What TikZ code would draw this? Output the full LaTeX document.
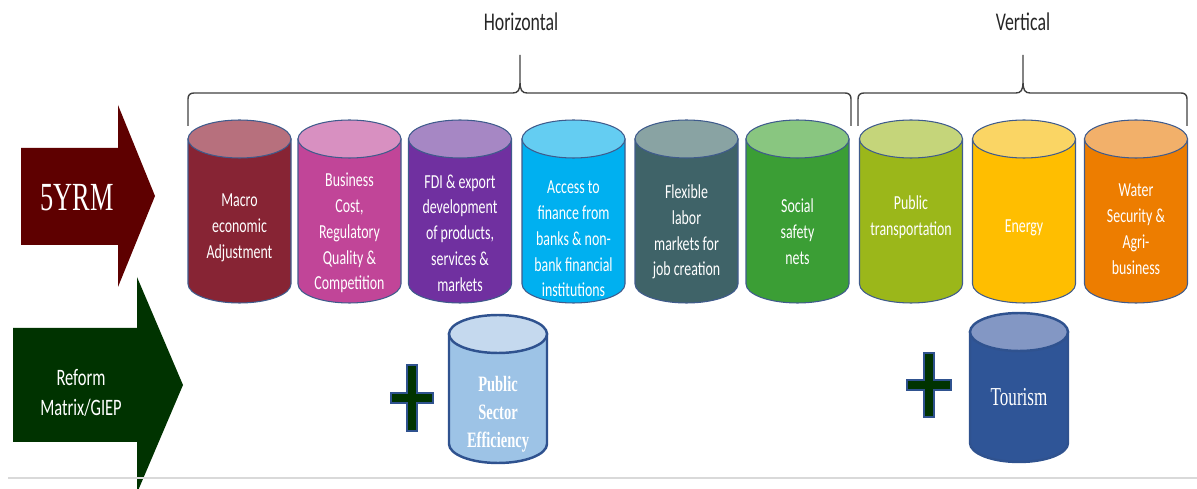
\documentclass[tikz,border=0pt]{standalone}
\usepackage{fontspec}
\setmainfont{Carlito}
\newfontfamily\cylfont[FakeStretch=0.7]{Carlito}
\newfontfamily\capfont[FakeStretch=0.66]{Liberation Serif}
\usepackage{tikz}
\usepackage{xcolor}

\definecolor{macroBody}{RGB}{135,36,52}   \definecolor{macroTop}{RGB}{183,112,125}
\definecolor{bizBody}{RGB}{193,69,152}    \definecolor{bizTop}{RGB}{216,144,193}
\definecolor{fdiBody}{RGB}{112,48,160}    \definecolor{fdiTop}{RGB}{166,135,196}
\definecolor{accBody}{RGB}{0,176,240}     \definecolor{accTop}{RGB}{100,205,242}
\definecolor{labBody}{RGB}{63,99,104}     \definecolor{labTop}{RGB}{137,163,163}
\definecolor{socBody}{RGB}{59,158,53}     \definecolor{socTop}{RGB}{137,198,128}
\definecolor{trnBody}{RGB}{155,183,26}    \definecolor{trnTop}{RGB}{197,213,122}
\definecolor{engBody}{RGB}{255,190,0}     \definecolor{engTop}{RGB}{250,213,100}
\definecolor{watBody}{RGB}{237,125,0}     \definecolor{watTop}{RGB}{242,176,106}
\definecolor{pseBody}{RGB}{157,195,230}   \definecolor{pseTop}{RGB}{197,217,238}
\definecolor{touBody}{RGB}{47,85,151}     \definecolor{touTop}{RGB}{131,151,196}
\definecolor{rimBlue}{RGB}{47,82,143}
\definecolor{yrmRed}{RGB}{94,0,0}
\definecolor{giepGreen}{RGB}{0,51,0}

\tikzset{
    pillarline/.style={
        draw=rimBlue!80!gray,
        line width=0.6pt
    },
    pillartext/.style={
        align=center,
        text=white,
        font=\cylfont\fontsize{11.3}{14.7}\selectfont
    },
    heading/.style={
        text=black!85,
        font=\cylfont\fontsize{14.5}{17}\selectfont
    },
    plussign/.style={
        fill=giepGreen,
        draw=rimBlue,
        line width=1.6pt,
        line join=miter
    }
}

% pillar: [line style]{centre x}{half width}{top y}{bottom y}{body colour}{top colour}
\newcommand{\pillar}[7][pillarline]{%
  \path[#1, fill=#6] ({#2-#3},{#4+19}) -- ({#2-#3},{#5-19})
    arc[start angle=180, end angle=360, x radius={#3*0.02cm}, y radius=0.38cm]
    -- ({#2+#3},{#4+19}) -- cycle;
  \path[#1, fill=#7] (#2,{#4+19}) ellipse [x radius={#3*0.02cm}, y radius=0.38cm];
}

\begin{document}
\begin{tikzpicture}[x=0.02cm, y=-0.02cm]
  \useasboundingbox (0,0) rectangle (1197,489);

  % Left arrows
  \fill[yrmRed] (21,148) -- (118,148) -- (118,105) -- (155,196) -- (118,287) -- (118,245) -- (21,245) -- cycle;
  \fill[giepGreen] (13,328) -- (137,328) -- (137,277) -- (183,385) -- (137,493) -- (137,442) -- (13,442) -- cycle;
  \node[text=white, font=\capfont\fontsize{22.7}{26}\selectfont] (yrm) at (77,198) {5YRM};
  \node[text=white, align=center, font=\cylfont\fontsize{13.4}{17.5}\selectfont] (giep) at (81,393) {Reform\\Matrix/GIEP};

  % Braces
  \draw[black!75, line width=0.8pt] (188,126) -- (188,99) .. controls (188,95) and (190,93) .. (194,93)
    -- (513,93) .. controls (518,93) and (520,90) .. (520,82) -- (520,55) -- (520,82)
    .. controls (520,90) and (522,93) .. (527,93) -- (845,93) .. controls (849,93) and (851,95) .. (851,99) -- (851,126);
  \draw[black!75, line width=0.8pt] (858,126) -- (858,99) .. controls (858,95) and (860,93) .. (864,93)
    -- (1016,93) .. controls (1021,93) and (1023,90) .. (1023,82) -- (1023,55) -- (1023,82)
    .. controls (1023,90) and (1025,93) .. (1030,93) -- (1181,93) .. controls (1185,93) and (1187,95) .. (1187,99) -- (1187,126);
  \node[heading] (horiz) at (521,22) {Horizontal};
  \node[heading] (vert) at (1023,22) {Vertical};

  % Top row of pillars
  \pillar{239.5}{51.5}{120}{303}{macroBody}{macroTop}
  \pillar{349.5}{51.5}{120}{303}{bizBody}{bizTop}
  \pillar{460}{51.5}{120}{303}{fdiBody}{fdiTop}
  \pillar{573.5}{51.5}{120}{303}{accBody}{accTop}
  \pillar{686.5}{51.5}{120}{303}{labBody}{labTop}
  \pillar{797.5}{51.5}{120}{303}{socBody}{socTop}
  \pillar{911}{51.5}{120}{303}{trnBody}{trnTop}
  \pillar{1024}{51.5}{120}{303}{engBody}{engTop}
  \pillar{1136}{51.5}{120}{303}{watBody}{watTop}

  \node[pillartext] (t1) at (239.5,228) {Macro\\economic\\Adjustment};
  \node[pillartext] (t2) at (349.5,233) {Business\\Cost,\\Regulatory\\Quality \&\\Competition};
  \node[pillartext] (t3) at (460,233) {FDI \& export\\development\\of products,\\services \&\\markets};
  \node[pillartext] (t4) at (573.5,239) {Access to\\finance from\\banks \& non-\\bank financial\\institutions};
  \node[pillartext] (t5) at (686.5,232) {Flexible\\labor\\markets for\\job creation};
  \node[pillartext] (t6) at (797.5,232) {Social\\safety\\nets};
  \node[pillartext] (t7) at (911,217) {Public\\transportation};
  \node[pillartext] (t8) at (1024,228) {Energy};
  \node[pillartext] (t9) at (1136,229) {Water\\Security \&\\Agri-\\business};

  % Added pillars
  \pillar[draw=rimBlue, line width=1.4pt]{498}{49}{315}{463}{pseBody}{pseTop}
  \pillar[draw=rimBlue, line width=1.4pt]{1019}{49}{313}{462}{touBody}{touTop}
  \node[text=white, align=center, font=\capfont\bfseries\fontsize{12.5}{15.9}\selectfont] (pset) at (498,414) {Public\\Sector\\Efficiency};
  \node[text=white, font=\capfont\fontsize{14.7}{17}\selectfont] (tourt) at (1019,397) {Tourism};

  % Plus signs
  \draw[plussign, shift={(412,398)}] (-5,-33) -- (5,-33) -- (5,-5) -- (21,-5) -- (21,5) -- (5,5) -- (5,33)
    -- (-5,33) -- (-5,5) -- (-21,5) -- (-21,-5) -- (-5,-5) -- cycle;
  \draw[plussign, shift={(929,385)}] (-5,-32) -- (5,-32) -- (5,-5) -- (22,-5) -- (22,5) -- (5,5) -- (5,32)
    -- (-5,32) -- (-5,5) -- (-22,5) -- (-22,-5) -- (-5,-5) -- cycle;

  % Base line
  \draw[black!15, line width=1.2pt] (8,478) -- (1197,478);
\end{tikzpicture}
\end{document}
